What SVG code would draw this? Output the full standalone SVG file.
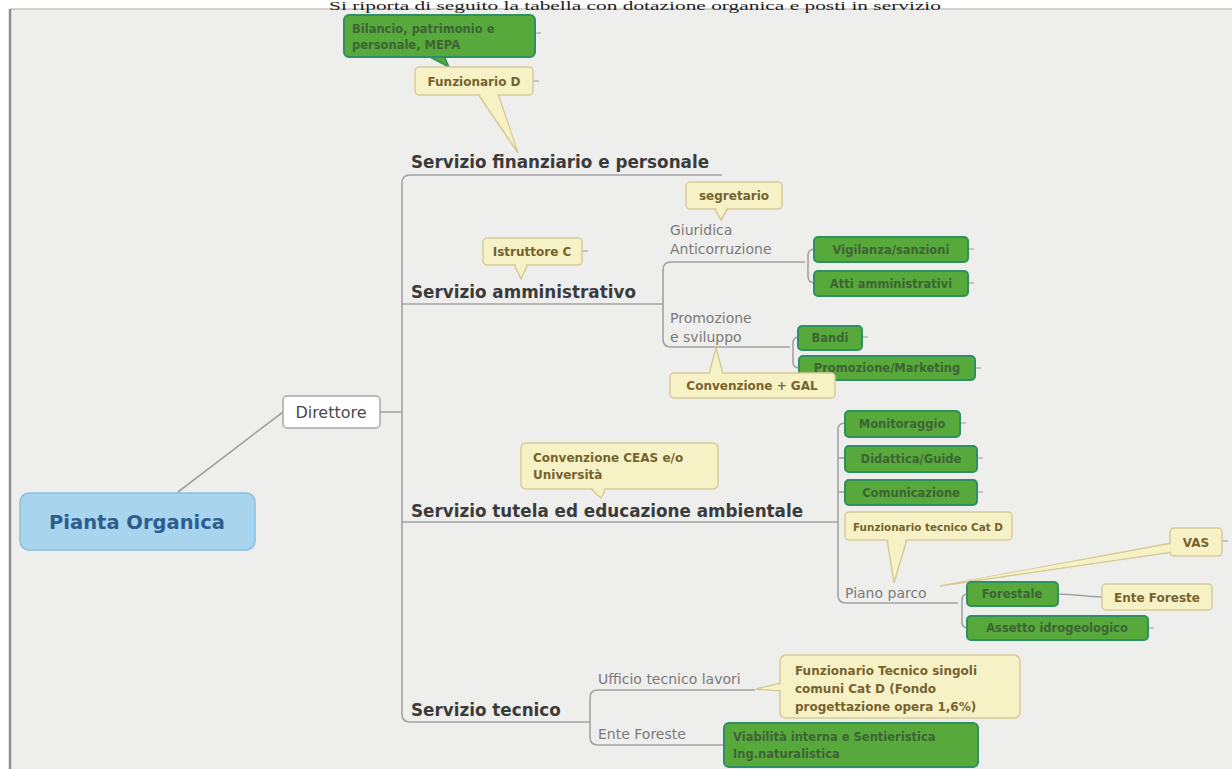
<svg xmlns="http://www.w3.org/2000/svg" width="1232" height="769" viewBox="0 0 1232 769">
<style>
.t{font-family:"DejaVu Sans","Liberation Sans",sans-serif}
.svc{font-family:"DejaVu Sans","Liberation Sans",sans-serif;font-weight:bold;font-size:16.8px;fill:#3b3b3b}
.sub{font-family:"DejaVu Sans","Liberation Sans",sans-serif;font-size:14px;fill:#7a7a7a}
.gbox{fill:#58a93c;stroke:#2e8f63;stroke-width:2}
.gtxt{font-family:"DejaVu Sans","Liberation Sans",sans-serif;font-weight:bold;font-size:11.5px;fill:#3d6434}
.ybox{fill:#f7f2c6;stroke:#d5cc98;stroke-width:1.5}
.ytxt{font-family:"DejaVu Sans","Liberation Sans",sans-serif;font-weight:bold;font-size:12px;fill:#76622f}
.ln{fill:none;stroke:#a2a2a2;stroke-width:1.6}
.stub{fill:none;stroke:#9a9a9a;stroke-width:1.2}
</style>
<rect x="0" y="0" width="1232" height="769" fill="#ffffff"/>
<rect x="10" y="9" width="1222" height="760" fill="#eeeeec"/>
<line x1="10" y1="9" x2="1232" y2="9" stroke="#c4c4c2" stroke-width="1.5"/>
<line x1="10" y1="9" x2="10" y2="769" stroke="#8e8e8e" stroke-width="2.5"/>
<text x="635" y="10" text-anchor="middle" font-family="Liberation Serif, serif" font-size="12" fill="#222" textLength="612" lengthAdjust="spacingAndGlyphs">Si riporta di seguito la tabella con dotazione organica e posti in servizio</text>

<g id="connectors">
  <path class="ln" d="M178 492 L283 412"/>
  <path class="ln" d="M380 412 H402"/>
  <path class="ln" d="M722 175 H410 Q402 175 402 183 V714 Q402 722 410 722 H590"/>
  <path class="ln" d="M402 304 H663"/>
  <path class="ln" d="M402 522 H838"/>
  <path class="ln" d="M805 262 H671 Q663 262 663 270 V339 Q663 347 671 347 H790"/>
  <path class="ln" d="M815 249 Q808 249 808 256 V276 Q808 283 815 283"/>
  <path class="ln" d="M799 337 Q793 337 793 343 V362 Q793 368 800 368"/>
  <path class="ln" d="M845 423 Q838 423 838 430 V595 Q838 603 846 603 H958"/>
  <path class="ln" d="M838 458 H845"/>
  <path class="ln" d="M838 492 H845"/>
  <path class="ln" d="M968 594 Q962 594 962 600 V622 Q962 628 968 628"/>
  <path class="ln" d="M1058 594 C1080 594 1082 597 1102 597"/>
  <path class="ln" d="M755 690 H598 Q590 690 590 698 V737 Q590 745 598 745 H724"/>
  <path class="stub" d="M535 33 H541 M533 81 H539 M582 251 H588 M968 249 H974 M968 283 H974 M862 337 H868 M975 368 H981 M960 423 H966 M977 458 H983 M977 492 H983 M1222 541 H1228 M1148 628 H1154"/>
</g>

<g id="pianta-organica">
  <rect x="20" y="493" width="235" height="57" rx="9" fill="#a8d4ee" stroke="#8bbfe0" stroke-width="1.5"/>
  <text x="137" y="529" text-anchor="middle" class="t" font-weight="bold" font-size="19.5" fill="#2d5e8e">Pianta Organica</text>
</g>
<g id="direttore">
  <rect x="283" y="396" width="97" height="32" rx="4" fill="#ffffff" stroke="#a8a8a8" stroke-width="1.5"/>
  <text x="331" y="418" text-anchor="middle" class="t" font-size="16" fill="#4a4a4a">Direttore</text>
</g>

<g id="servizio-finanziario">
  <text x="411" y="168" class="svc">Servizio finanziario e personale</text>
</g>
<g id="bilancio">
  <polygon class="ybox" points="428,56 444,56 449,67" style="fill:#58a93c;stroke:#2e8f63"/>
  <rect class="gbox" x="344" y="15" width="191" height="42" rx="5"/>
  <text class="gtxt" x="352" y="33">Bilancio, patrimonio e</text>
  <text class="gtxt" x="352" y="49">personale, MEPA</text>
</g>
<g id="funzionario-d">
  <polygon class="ybox" points="478,94 498,94 518,153"/>
  <rect class="ybox" x="415" y="67" width="118" height="28" rx="4"/>
  <polygon points="479,93 497,93 515,146" fill="#f7f2c6"/>
  <text class="ytxt" x="474" y="86" text-anchor="middle">Funzionario D</text>
</g>

<g id="servizio-amministrativo">
  <text x="411" y="298" class="svc">Servizio amministrativo</text>
</g>
<g id="istruttore-c">
  <polygon class="ybox" points="514,264 528,264 521,279"/>
  <rect class="ybox" x="483" y="238" width="99" height="27" rx="4"/>
  <polygon points="515,263 527,263 521,275" fill="#f7f2c6"/>
  <text class="ytxt" x="532" y="256" text-anchor="middle">Istruttore C</text>
</g>
<g id="giuridica">
  <text class="sub" x="670" y="235">Giuridica</text>
  <text class="sub" x="670" y="254">Anticorruzione</text>
</g>
<g id="segretario">
  <polygon class="ybox" points="714,208 728,208 721,220"/>
  <rect class="ybox" x="686" y="182" width="96" height="27" rx="4"/>
  <polygon points="715,207 727,207 721,216" fill="#f7f2c6"/>
  <text class="ytxt" x="734" y="200" text-anchor="middle">segretario</text>
</g>
<g id="vigilanza">
  <rect class="gbox" x="814" y="237" width="154" height="25" rx="4"/>
  <text class="gtxt" x="891" y="254" text-anchor="middle">Vigilanza/sanzioni</text>
</g>
<g id="atti">
  <rect class="gbox" x="814" y="271" width="154" height="25" rx="4"/>
  <text class="gtxt" x="891" y="288" text-anchor="middle">Atti amministrativi</text>
</g>
<g id="promozione-sviluppo">
  <text class="sub" x="670" y="323">Promozione</text>
  <text class="sub" x="670" y="342">e sviluppo</text>
</g>
<g id="bandi">
  <rect class="gbox" x="798" y="326" width="64" height="24" rx="4"/>
  <text class="gtxt" x="830" y="342" text-anchor="middle">Bandi</text>
</g>
<g id="promozione-marketing">
  <rect class="gbox" x="799" y="356" width="176" height="24" rx="4"/>
  <text class="gtxt" x="887" y="372" text-anchor="middle">Promozione/Marketing</text>
</g>
<g id="convenzione-gal">
  <polygon class="ybox" points="709,374 723,374 716,348"/>
  <rect class="ybox" x="670" y="373" width="165" height="25" rx="4"/>
  <polygon points="710,375 722,375 716,352" fill="#f7f2c6"/>
  <text class="ytxt" x="752" y="390" text-anchor="middle">Convenzione + GAL</text>
</g>

<g id="servizio-tutela">
  <text x="411" y="517" class="svc">Servizio tutela ed educazione ambientale</text>
</g>
<g id="convenzione-ceas">
  <polygon class="ybox" points="590,488 606,488 601,498"/>
  <rect class="ybox" x="521" y="443" width="197" height="46" rx="5"/>
  <polygon points="591,487 605,487 601,495" fill="#f7f2c6"/>
  <text class="ytxt" x="533" y="462">Convenzione CEAS e/o</text>
  <text class="ytxt" x="533" y="479">Università</text>
</g>
<g id="monitoraggio">
  <rect class="gbox" x="845" y="411" width="115" height="26" rx="4"/>
  <text class="gtxt" x="902" y="428" text-anchor="middle">Monitoraggio</text>
</g>
<g id="didattica">
  <rect class="gbox" x="845" y="446" width="132" height="26" rx="4"/>
  <text class="gtxt" x="911" y="463" text-anchor="middle">Didattica/Guide</text>
</g>
<g id="comunicazione">
  <rect class="gbox" x="845" y="480" width="132" height="25" rx="4"/>
  <text class="gtxt" x="911" y="497" text-anchor="middle">Comunicazione</text>
</g>
<g id="funzionario-tecnico-d">
  <polygon class="ybox" points="887,539 907,539 894,583"/>
  <rect class="ybox" x="845" y="512" width="167" height="28" rx="4"/>
  <polygon points="888,538 906,538 895,575" fill="#f7f2c6"/>
  <text class="ytxt" x="853" y="531" font-size="11" style="font-size:11px" textLength="150" lengthAdjust="spacingAndGlyphs">Funzionario tecnico Cat D</text>
</g>
<g id="piano-parco">
  <text class="sub" x="845" y="598">Piano parco</text>
</g>
<g id="vas">
  <polygon class="ybox" points="1172,543 1172,552 940,586"/>
  <rect class="ybox" x="1170" y="528" width="52" height="28" rx="4"/>
  <polygon points="1174,544 1174,551 960,582" fill="#f7f2c6"/>
  <text class="ytxt" x="1196" y="547" text-anchor="middle">VAS</text>
</g>
<g id="forestale">
  <rect class="gbox" x="967" y="582" width="91" height="24" rx="4"/>
  <text class="gtxt" x="1012" y="598" text-anchor="middle">Forestale</text>
</g>
<g id="ente-foreste-1">
  <rect class="ybox" x="1102" y="584" width="110" height="26" rx="4"/>
  <text class="ytxt" x="1157" y="602" text-anchor="middle">Ente Foreste</text>
</g>
<g id="assetto">
  <rect class="gbox" x="967" y="616" width="181" height="24" rx="4"/>
  <text class="gtxt" x="1057" y="632" text-anchor="middle">Assetto idrogeologico</text>
</g>

<g id="servizio-tecnico">
  <text x="411" y="716" class="svc">Servizio tecnico</text>
</g>
<g id="ufficio-tecnico">
  <text class="sub" x="598" y="684">Ufficio tecnico lavori</text>
</g>
<g id="funzionario-tecnico-singoli">
  <polygon class="ybox" points="781,683 781,691 756,689"/>
  <rect class="ybox" x="780" y="655" width="240" height="63" rx="6"/>
  <polygon points="782,684 782,690 764,689" fill="#f7f2c6"/>
  <text class="ytxt" x="795" y="675">Funzionario Tecnico singoli</text>
  <text class="ytxt" x="795" y="693">comuni Cat D (Fondo</text>
  <text class="ytxt" x="795" y="711">progettazione opera 1,6%)</text>
</g>
<g id="ente-foreste-2">
  <text class="sub" x="598" y="739">Ente Foreste</text>
</g>
<g id="viabilita">
  <rect class="gbox" x="724" y="723" width="254" height="44" rx="5"/>
  <text class="gtxt" x="733" y="741">Viabilità interna e Sentieristica</text>
  <text class="gtxt" x="733" y="758">Ing.naturalistica</text>
</g>
</svg>
